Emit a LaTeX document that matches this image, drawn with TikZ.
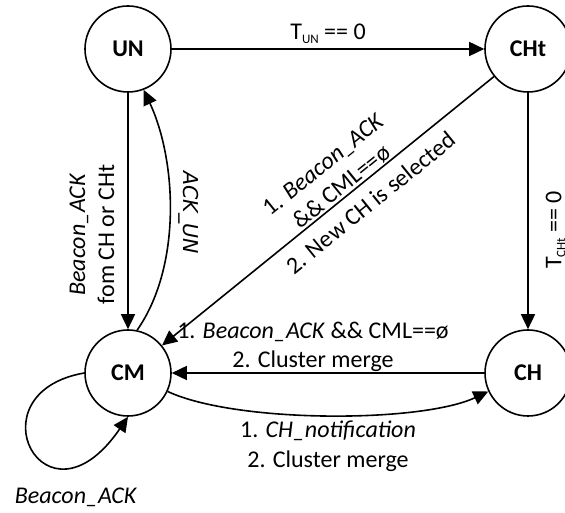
\documentclass[tikz,border=0pt]{standalone}
\usepackage{fontspec}
\setmainfont{Carlito}
\newfontfamily\dvsans{DejaVu Sans}
\usetikzlibrary{arrows.meta}
\newcommand{\mysub}[1]{\raisebox{-4pt}{\fontsize{13}{13}\selectfont #1}}
\begin{document}
\begin{tikzpicture}[x=1pt,y=1pt,
  state/.style={circle, draw, line width=1.6pt, minimum size=86pt, inner sep=0pt, font=\fontsize{24}{29}\selectfont\bfseries},
  trans/.style={line width=1.6pt, -{Triangle[length=15pt,width=14pt]}},
  rtrans/.style={line width=1.6pt, {Triangle[length=15pt,width=14pt]}-},
  lbl/.style={font=\fontsize{24}{29}\selectfont, align=center, inner sep=1pt},
]
\clip (0,0) rectangle (565,513);
\node[state] (UN) at (128,464) {UN};
\node[state] (CHt) at (528,464) {CHt};
\node[state] (CM) at (128,140) {CM};
\node[state] (CH) at (528,140) {CH};

\draw[trans] (UN) -- node[lbl, above, inner sep=5pt] {T\mysub{UN} == 0} (CHt);
\draw[trans] (UN) -- node[lbl, pos=.6, rotate=90, anchor=south, inner ysep=13pt] {\textit{Beacon\_ACK}\\fom CH or CHt} (CM);
\draw[trans] (CM.78) to[out=55, in=-65, looseness=.83] node[lbl, pos=.5, rotate=-90, anchor=south, inner ysep=8pt, font=\dvsans\fontsize{20.5}{24}\selectfont] {\textit{ACK\_UN}} (UN.-69);
\draw[rtrans] (CM) -- node[lbl, sloped, above, pos=.56] {1. \textit{Beacon\_ACK}\\\&\& CML==ø}
  node[lbl, sloped, below, pos=.59, inner sep=11pt] {2. New CH is selected} (CHt);
\draw[trans] (CHt) -- node[lbl, pos=.58, rotate=90, anchor=north, inner ysep=17pt] {T\mysub{CHt} == 0} (CH);
\draw[trans] (CH) -- node[lbl, above, pos=.548] {1. \textit{Beacon\_ACK} \&\& CML==ø\\2. Cluster merge} (CM);
\draw[trans] (CM) to[out=-25, in=205, looseness=.6] node[lbl, below, pos=.5, inner sep=5pt, font=\fontsize{24}{30}\selectfont] {1. \textit{CH\_notification}\\2. Cluster merge} (CH);
\draw[trans] (CM.west) .. controls (-30,120) and (45,-25) .. (CM.south);
\node[lbl] (loopl) at (76,16) {\textit{Beacon\_ACK}};
\end{tikzpicture}
\end{document}
